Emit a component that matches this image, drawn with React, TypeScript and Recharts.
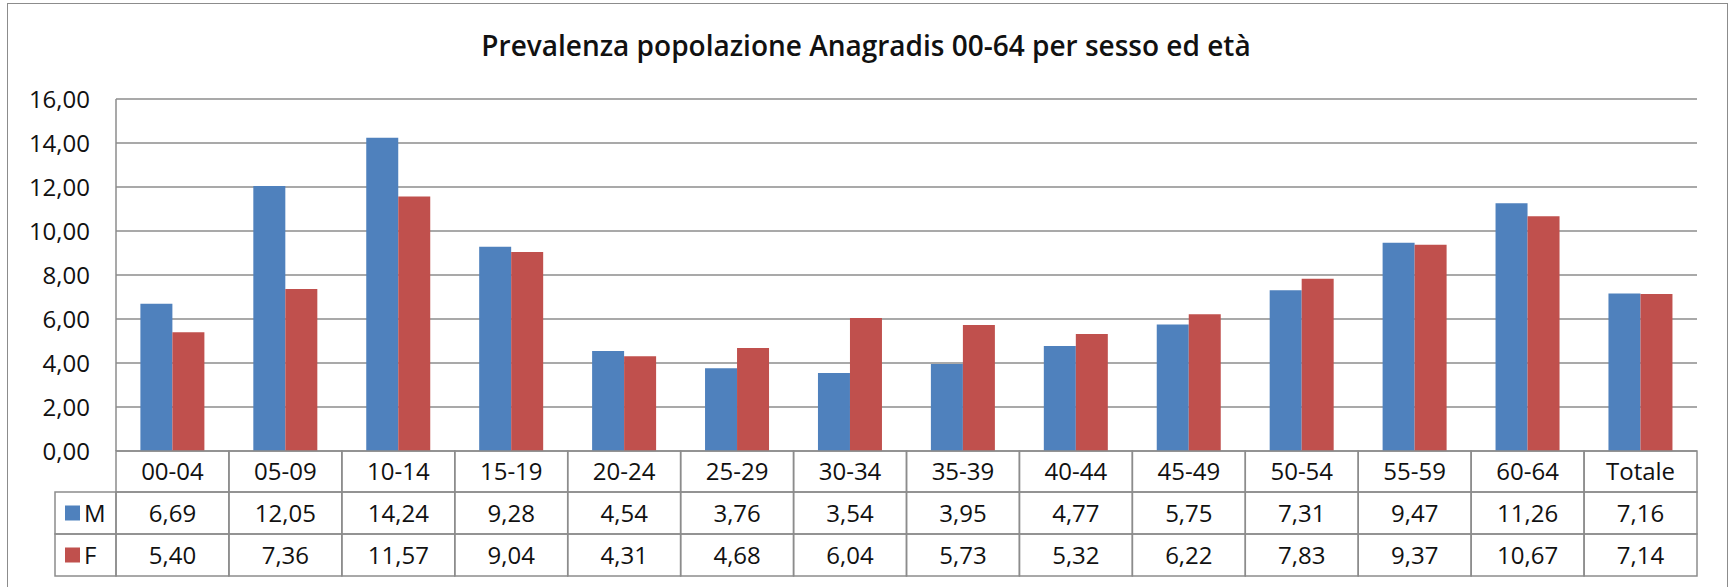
import React from 'react';
import { BarChart, Bar, XAxis, YAxis, CartesianGrid } from 'recharts';

const categories = ['00-04', '05-09', '10-14', '15-19', '20-24', '25-29', '30-34', '35-39', '40-44', '45-49', '50-54', '55-59', '60-64', 'Totale'];
const maleValues = [6.69, 12.05, 14.24, 9.28, 4.54, 3.76, 3.54, 3.95, 4.77, 5.75, 7.31, 9.47, 11.26, 7.16];
const femaleValues = [5.40, 7.36, 11.57, 9.04, 4.31, 4.68, 6.04, 5.73, 5.32, 6.22, 7.83, 9.37, 10.67, 7.14];
const yTicks = [0, 2, 4, 6, 8, 10, 12, 14, 16];
const seriesNames = ['M', 'F'];
const title = 'Prevalenza popolazione Anagradis 00-64 per sesso ed età';

const W = 1729;
const H = 587;
const PLOT_LEFT = 116;
const PLOT_RIGHT = 1697;
const PLOT_TOP = 99;
const ROW_H = [41, 42, 42];
const TABLE_H = 125;
const BOTTOM_MARGIN = 11;
const LEGEND_LEFT = 55;
const FONT = '"Open Sans", Lato, sans-serif';
const COLORS: Record<string, string> = { M: '#4F81BD', F: '#C0504D' };
const BORDER = '#8C8C8C';
const TEXT = '#111';
const FS = 24;

const fmt = (v: number) => v.toFixed(2).replace('.', ',');

const data = categories.map((c, i) => ({ cat: c, M: maleValues[i], F: femaleValues[i] }));

const seriesValues: Record<string, number[]> = { M: maleValues, F: femaleValues };

const TableTick = (props: any) => {
  const { x, y, payload } = props;
  const idx = payload.index;
  const w = (PLOT_RIGHT - PLOT_LEFT) / categories.length;
  const left = x - w / 2;
  const rows: React.ReactNode[] = [];
  let top = y;
  const cells = [payload.value, ...seriesNames.map((s) => fmt(seriesValues[s][idx]))];
  cells.forEach((txt, r) => {
    const h = ROW_H[r];
    rows.push(
      <g key={r}>
        <rect x={left} y={top} width={w} height={h} fill="none" stroke={BORDER} strokeWidth={1.5} />
        <text x={x} y={top + h / 2} dy="0.36em" textAnchor="middle" fontSize={FS} fontFamily={FONT} fill={TEXT}>
          {txt}
        </text>
      </g>
    );
    if (idx === 0 && r > 0) {
      const name = seriesNames[r - 1];
      rows.push(
        <g key={'lg' + r}>
          <rect x={LEGEND_LEFT} y={top} width={left - LEGEND_LEFT} height={h} fill="none" stroke={BORDER} strokeWidth={1.5} />
          <rect x={LEGEND_LEFT + 10} y={top + h / 2 - 7.5} width={15} height={15} fill={COLORS[name]} />
          <text x={LEGEND_LEFT + 29} y={top + h / 2} dy="0.36em" textAnchor="start" fontSize={FS} fontFamily={FONT} fill={TEXT}>
            {name}
          </text>
        </g>
      );
    }
    top += h;
  });
  return <g>{rows}</g>;
};

export default function App() {
  return (
    <div style={{ position: 'absolute', left: 0, top: 0, width: W, height: H, background: '#fff', overflow: 'hidden' }}>
      <BarChart
        width={W}
        height={H}
        data={data}
        margin={{ top: PLOT_TOP, right: W - PLOT_RIGHT, bottom: BOTTOM_MARGIN, left: 0 }}
        barCategoryGap="21.6%"
        barGap={0}
      >
        <CartesianGrid horizontal vertical={false} stroke={BORDER} strokeWidth={1.5} />
        <YAxis
          type="number"
          domain={[0, 16]}
          ticks={yTicks}
          width={PLOT_LEFT}
          tickFormatter={fmt}
          tickLine={false}
          tickSize={0}
          tickMargin={26}
          axisLine={{ stroke: BORDER, strokeWidth: 1.5 }}
          tick={{ fontSize: FS, fontFamily: FONT, fill: TEXT }}
          interval={0}
        />
        <XAxis
          dataKey="cat"
          height={TABLE_H}
          interval={0}
          tickLine={false}
          axisLine={false}
          tickSize={0}
          tickMargin={0}
          tick={<TableTick />}
        />
        {seriesNames.map((s) => (
          <Bar key={s} dataKey={s} fill={COLORS[s]} isAnimationActive={false} />
        ))}
      </BarChart>
      <svg width={W} height={80} style={{ position: 'absolute', left: 0, top: 0, pointerEvents: 'none' }}>
        <text x={866} y={56} textAnchor="middle" fontFamily={FONT} fontWeight={600} fontSize={28} fill={TEXT}>
          {title}
        </text>
      </svg>
      <div
        style={{
          position: 'absolute',
          left: 7,
          top: 3,
          width: 1721,
          height: 600,
          border: '1.5px solid ' + BORDER,
          boxSizing: 'border-box',
          pointerEvents: 'none',
        }}
      />
    </div>
  );
}
